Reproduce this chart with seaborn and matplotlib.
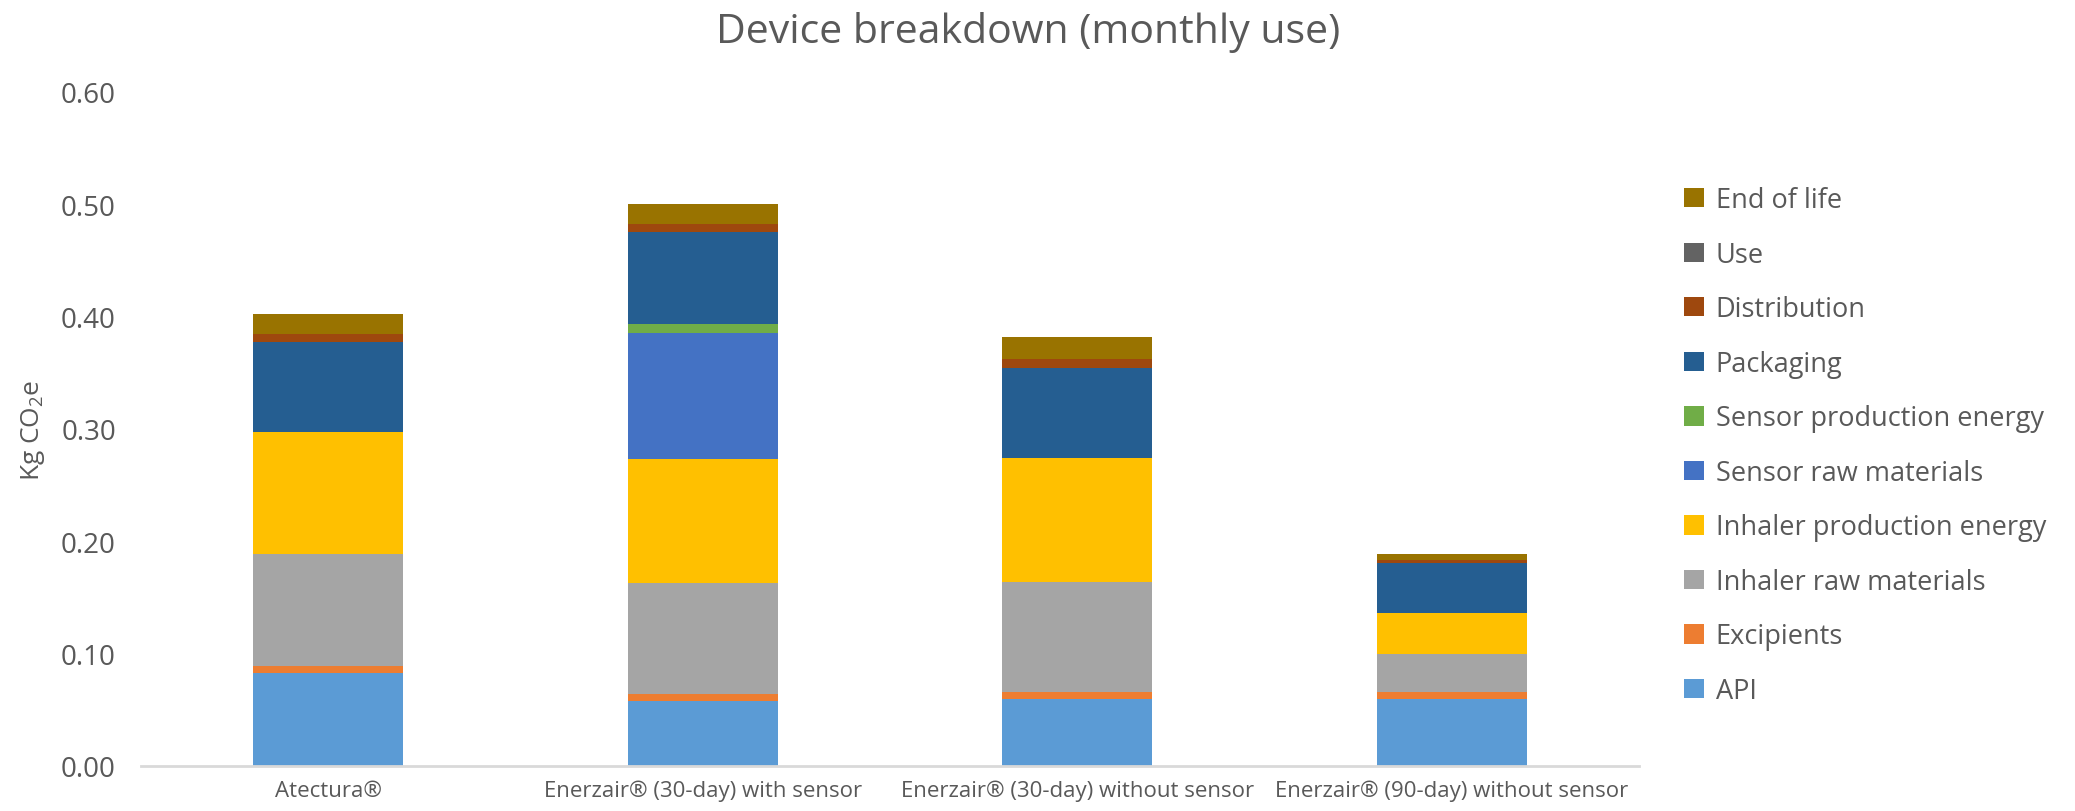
"""
Device breakdown (monthly use) - stacked CO2e bars
"""

import matplotlib.pyplot as plt
import pandas as pd
import seaborn as sns
from matplotlib.patches import Patch

# Data (Kg CO2e per month)
devices = [
    "Atectura®",
    "Enerzair® (30-day) with sensor",
    "Enerzair® (30-day) without sensor",
    "Enerzair® (90-day) without sensor",
]
api = [0.083, 0.058, 0.060, 0.060]
excipients = [0.006, 0.006, 0.006, 0.006]
inhaler_raw = [0.100, 0.099, 0.098, 0.034]
inhaler_energy = [0.108, 0.110, 0.110, 0.036]
sensor_raw = [0.0, 0.112, 0.0, 0.0]
sensor_energy = [0.0, 0.008, 0.0, 0.0]
packaging = [0.080, 0.082, 0.080, 0.045]
distribution = [0.007, 0.007, 0.008, 0.002]
use = [0.0, 0.0, 0.0, 0.0]
end_of_life = [0.018, 0.018, 0.020, 0.006]

components = [
    "API",
    "Excipients",
    "Inhaler raw materials",
    "Inhaler production energy",
    "Sensor raw materials",
    "Sensor production energy",
    "Packaging",
    "Distribution",
    "Use",
    "End of life",
]
colors = [
    "#5B9BD5",
    "#ED7D31",
    "#A5A5A5",
    "#FFC000",
    "#4472C4",
    "#70AD47",
    "#255E91",
    "#9E480E",
    "#636363",
    "#997300",
]

df = pd.DataFrame(
    [api, excipients, inhaler_raw, inhaler_energy, sensor_raw,
     sensor_energy, packaging, distribution, use, end_of_life],
    index=components,
    columns=devices,
)
cum = df.cumsum(axis=0)

sns.set_style("white")
plt.rcParams["font.family"] = ["Open Sans", "DejaVu Sans"]
plt.rcParams["mathtext.fontset"] = "custom"
plt.rcParams["mathtext.rm"] = "Open Sans"
plt.rcParams["mathtext.it"] = "Open Sans:italic"
text_color = "#595959"

fig = plt.figure(figsize=(20.75, 8.12), dpi=100)
ax = fig.add_axes([141 / 2075, 45 / 812, (1639 - 141) / 2075, (767 - 92.6) / 812])

# Draw cumulative totals from top down so each lower layer covers the one above
for comp, color in reversed(list(zip(components, colors))):
    sns.barplot(
        x=devices,
        y=cum.loc[comp].values,
        color=color,
        width=0.4,
        linewidth=0,
        saturation=1,
        ax=ax,
    )

ax.set_ylim(0, 0.6)
ax.set_xlim(-0.5, 3.5)
ax.set_yticks([0, 0.1, 0.2, 0.3, 0.4, 0.5, 0.6])
ax.set_yticklabels([f"{v:.2f}" for v in ax.get_yticks()], fontsize=20, color=text_color)
ax.tick_params(axis="y", length=0, pad=18)
ax.tick_params(axis="x", length=0, pad=10)
ax.set_xticks(range(len(devices)))
ax.set_xticklabels(devices, fontsize=16, color=text_color)
for side in ["top", "right", "left"]:
    ax.spines[side].set_visible(False)
ax.spines["bottom"].set_color("#D9D9D9")
ax.spines["bottom"].set_linewidth(2)
ax.set_xlabel("")
ax.set_ylabel("Kg CO$_\\mathrm{2}$e", fontsize=19, color=text_color, labelpad=10)

fig.text(0.4955, 0.96, "Device breakdown (monthly use)", fontsize=29.5,
         color=text_color, ha="center", va="center")

handles = [Patch(facecolor=c, edgecolor="none") for c in colors]
leg = fig.legend(
    handles[::-1],
    components[::-1],
    loc="center left",
    bbox_to_anchor=(1684 / 2075, 0.45),
    frameon=False,
    fontsize=19.5,
    handlelength=0.72,
    handleheight=0.72,
    handletextpad=0.45,
    labelspacing=0.98,
    borderpad=0,
    borderaxespad=0,
)
for t in leg.get_texts():
    t.set_color(text_color)

fig.savefig("out.png", dpi=100)
